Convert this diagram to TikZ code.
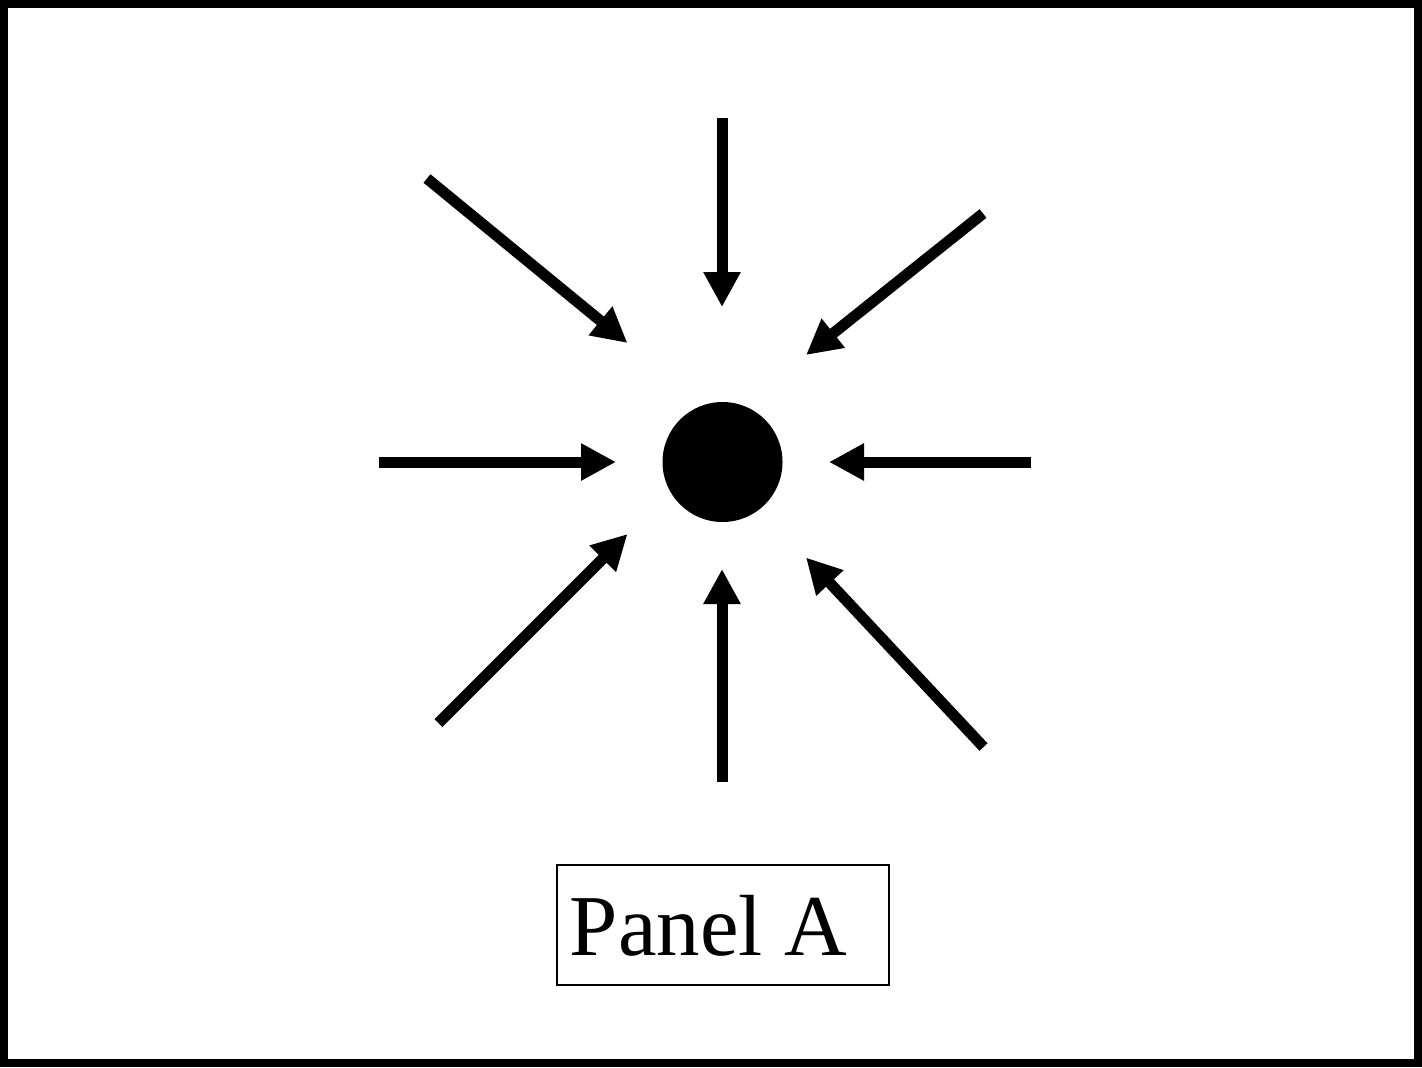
\documentclass[tikz,border=0pt]{standalone}
\usepackage{fontspec}
\setmainfont{Liberation Serif}
\usetikzlibrary{arrows.meta}
\begin{document}
\begin{tikzpicture}[x=0.5pt,y=-0.5pt,
  inarrow/.style={line width=5.5pt,-{Triangle[length=17.5pt,width=17.5pt]}},
  frame/.style={draw=black,line width=4pt},
  label box/.style={draw=black,line width=0.7pt,minimum width=166pt,minimum height=60pt,inner sep=0pt}]
\useasboundingbox (0,0) rectangle (1422,1067);
\draw[frame] (4,4) rectangle (1418,1063);
\node[circle,fill=black,minimum size=60pt,inner sep=0pt] (dot) at (722.5,462) {};
% arrow start and tip coordinates
\coordinate (s1) at (722,118);   \coordinate (t1) at (722,307);
\coordinate (s2) at (427,178.5); \coordinate (t2) at (627.5,343);
\coordinate (s3) at (983,213.5); \coordinate (t3) at (806,355);
\coordinate (s4) at (379,462);   \coordinate (t4) at (616,462);
\coordinate (s5) at (1031,462);  \coordinate (t5) at (829,462);
\coordinate (s6) at (438.5,723); \coordinate (t6) at (627.5,534);
\coordinate (s7) at (722,782);   \coordinate (t7) at (722,569);
\coordinate (s8) at (983.5,747); \coordinate (t8) at (806,557.5);
\foreach \i in {1,...,8} {\draw[inarrow] (s\i) -- (t\i);}
\node[label box] (panel) at (723,925) {};
\node[anchor=base west,inner sep=0pt,font=\fontsize{43.4pt}{52pt}\selectfont] (ptext) at (569.5,955) {Panel A};
\end{tikzpicture}
\end{document}
